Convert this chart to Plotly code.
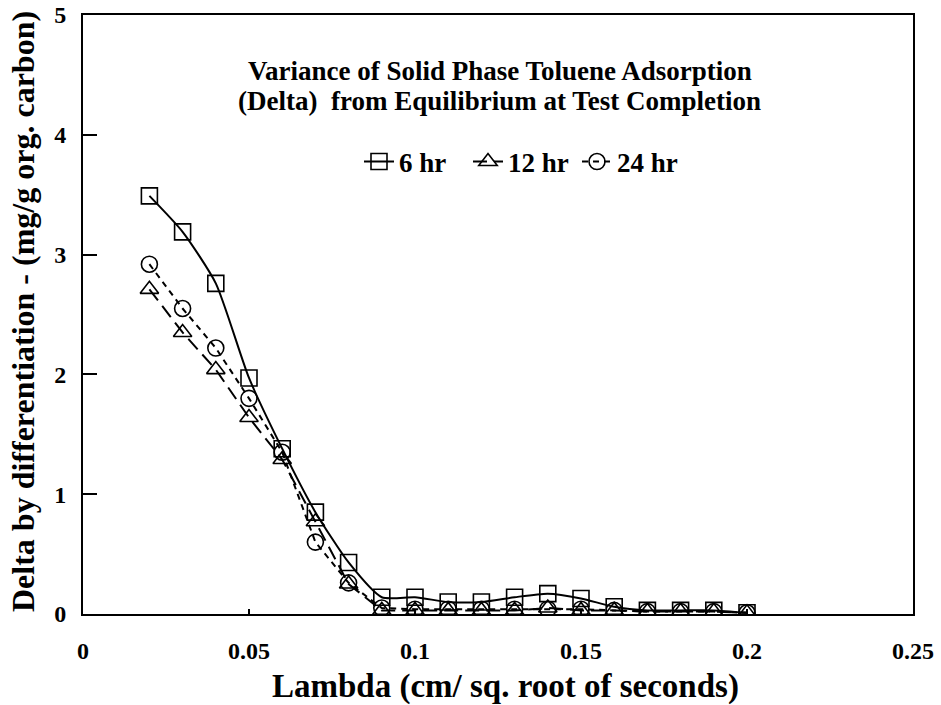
import plotly.graph_objects as go

lam = [0.02, 0.03, 0.04, 0.05, 0.06, 0.07, 0.08, 0.09, 0.10, 0.11,
       0.12, 0.13, 0.14, 0.15, 0.16, 0.17, 0.18, 0.19, 0.20]
delta_6hr = [3.49, 3.19, 2.76, 1.97, 1.38, 0.85, 0.43, 0.14, 0.14, 0.10,
             0.10, 0.14, 0.17, 0.13, 0.06, 0.03, 0.03, 0.03, 0.01]
delta_12hr = [2.71, 2.35, 2.04, 1.64, 1.29, 0.77, 0.25, 0.03, 0.03, 0.03,
              0.03, 0.03, 0.05, 0.03, 0.03, 0.02, 0.02, 0.02, 0.01]
delta_24hr = [2.92, 2.55, 2.22, 1.80, 1.35, 0.60, 0.26, 0.05, 0.04, 0.04,
              0.04, 0.04, 0.04, 0.04, 0.03, 0.02, 0.02, 0.02, 0.01]

x_ticks = [0, 0.05, 0.1, 0.15, 0.2, 0.25]
x_ticktext = ["0", "0.05", "0.1", "0.15", "0.2", "0.25"]
y_ticks = [0, 1, 2, 3, 4, 5]
y_ticktext = ["0", "1", "2", "3", "4", "5"]

FONT = "Liberation Serif"


def b(s):
    return "<b>" + s + "</b>"


fig = go.Figure()
fig.add_trace(go.Scatter(
    x=lam, y=delta_6hr, name=b("6 hr"), mode="lines+markers",
    line=dict(color="black", width=2, shape="spline", smoothing=0.6),
    marker=dict(symbol="square-open", size=16, color="black", line=dict(width=1.6, color="black")),
))
fig.add_trace(go.Scatter(
    x=lam, y=delta_12hr, name=b("12 hr"), mode="lines+markers",
    line=dict(color="black", width=2, dash="14px,7px"),
    marker=dict(symbol="triangle-up-open", size=16, color="black", line=dict(width=1.6, color="black")),
))
fig.add_trace(go.Scatter(
    x=lam, y=delta_24hr, name=b("24 hr"), mode="lines+markers",
    line=dict(color="black", width=2, dash="6px,5px"),
    marker=dict(symbol="circle-open", size=16, color="black", line=dict(width=1.6, color="black")),
))

# chart title (two lines)
fig.add_annotation(
    xref="paper", yref="paper", x=(500 - 83) / 830, y=(614 - 71) / 599,
    xanchor="center", yanchor="middle", showarrow=False,
    text=b("Variance of Solid Phase Toluene Adsorption"),
    font=dict(family=FONT, size=27, color="black"),
)
fig.add_annotation(
    xref="paper", yref="paper", x=(500 - 83) / 830, y=(614 - 101) / 599,
    xanchor="center", yanchor="middle", showarrow=False,
    text=b("(Delta)\u00a0 from Equilibrium at Test Completion"),
    font=dict(family=FONT, size=27, color="black"),
)
# axis titles
fig.add_annotation(
    xref="paper", yref="paper", x=(506 - 83) / 830, y=(614 - 686) / 599,
    xanchor="center", yanchor="middle", showarrow=False,
    text=b("Lambda (cm/ sq. root of seconds)"),
    font=dict(family=FONT, size=33, color="black"),
)
fig.add_annotation(
    xref="paper", yref="paper", x=(23 - 83) / 830, y=(614 - 312) / 599,
    xanchor="center", yanchor="middle", showarrow=False, textangle=-90,
    text=b("Delta by differentiation - (mg/g org. carbon)"),
    font=dict(family=FONT, size=32, color="black"),
)

fig.update_layout(
    width=941, height=705,
    margin=dict(l=83, r=28, t=15, b=91),
    paper_bgcolor="white", plot_bgcolor="white",
    legend=dict(
        orientation="h", x=(359 - 83) / 830, y=(614 - 162) / 599, xanchor="left", yanchor="middle",
        font=dict(family=FONT, size=27, color="black"),
        itemwidth=30, entrywidth=64, entrywidthmode="pixels", bgcolor="rgba(0,0,0,0)",
    ),
    xaxis=dict(
        range=[0, 0.25], tickvals=x_ticks, ticktext=[b(t) for t in x_ticktext],
        ticks="inside", ticklen=5, tickwidth=1.5, tickcolor="black",
        showline=True, linewidth=2, linecolor="black", mirror=True, showgrid=False, zeroline=False,
        automargin=False,
        tickfont=dict(family=FONT, size=24, color="black"), ticklabelstandoff=14,
    ),
    yaxis=dict(
        range=[0, 5], tickvals=y_ticks, ticktext=[b(t) for t in y_ticktext],
        ticks="inside", ticklen=14, tickwidth=1.5, tickcolor="black",
        showline=True, linewidth=2, linecolor="black", mirror=True, showgrid=False, zeroline=False,
        automargin=False,
        tickfont=dict(family=FONT, size=24, color="black"), ticklabelstandoff=10,
    ),
)

fig.write_html("out.html")
